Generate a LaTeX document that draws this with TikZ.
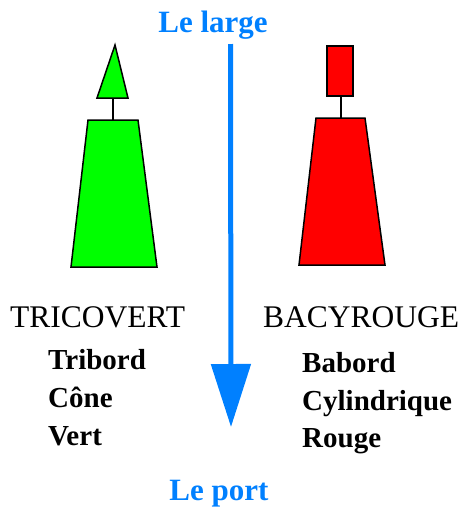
\documentclass[tikz,border=0pt]{standalone}
\usepackage{fontspec}
\setmainfont{Liberation Serif}
\usetikzlibrary{arrows.meta}
\definecolor{sea}{RGB}{0,128,255}
\definecolor{vert}{RGB}{0,255,0}
\definecolor{rouge}{RGB}{255,0,0}

\begin{document}
\begin{tikzpicture}[x=1pt,y=-1pt,
  buoy/.style={draw=black, line width=1.5pt, line join=miter},
  stem/.style={draw=black, line width=1.5pt},
  title/.style={anchor=base west, inner sep=0pt, font=\fontsize{31.5}{31.5}\selectfont},
  side/.style={anchor=base west, inner sep=0pt, font=\bfseries\fontsize{29}{29}\selectfont},
  way/.style={anchor=base, inner sep=0pt, text=sea, font=\bfseries\fontsize{31}{31}\selectfont}]
\useasboundingbox (0,0) rectangle (463,509);

% Le large and le port
\node[way] (large) at (213,32) {Le large};
\node[way] (port) at (219,500) {Le port};
\coordinate (from) at (230.5,44);
\coordinate (to) at (231,427);
\draw[sea, line width=5pt, -{Triangle[length=63pt,width=39pt]}] (from) -- (to);

% Tricovert: cone on top
\coordinate (A) at (97,98);
\coordinate (B) at (115,45);
\coordinate (C) at (128,98);
\draw[buoy, fill=vert] (A) -- (B) -- (C) -- cycle;
\coordinate (D) at (113,98);
\coordinate (E) at (113,120);
\draw[stem] (D) -- (E);
\draw[buoy, fill=vert] (71,267) -- (88,120) -- (138,120) -- (157,267) -- cycle;

% Bacyrouge: cylinder on top
\coordinate (F) at (327,46);
\coordinate (G) at (353,96);
\draw[buoy, fill=rouge] (F) rectangle (G);
\coordinate (H) at (341,96);
\coordinate (I) at (341,118);
\draw[stem] (H) -- (I);
\draw[buoy, fill=rouge] (299,265) -- (316,118) -- (365,118) -- (385,265) -- cycle;

% names
\node[title] (tri) at (10,327) {TRICOVERT};
\node[side] (tri1) at (48,369) {Tribord};
\node[side] (tri2) at (48,407) {Cône};
\node[side] (tri3) at (48,445) {Vert};

\node[title] (bac) at (263,327) {BACYROUGE};
\node[side] (bac1) at (302,372) {Babord};
\node[side] (bac2) at (302,410) {Cylindrique};
\node[side] (bac3) at (302,447) {Rouge};

\end{tikzpicture}
\end{document}
